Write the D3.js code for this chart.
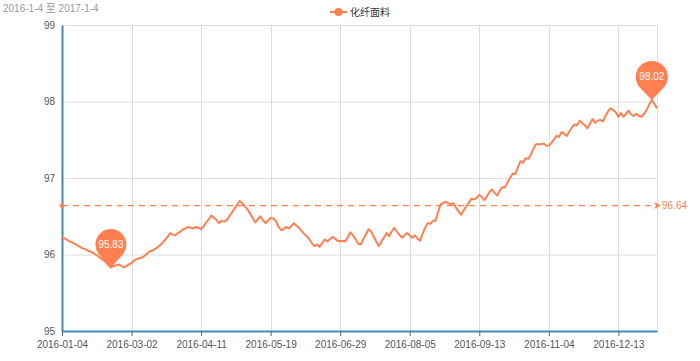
<!DOCTYPE html>
<html><head><meta charset="utf-8">
<script src="https://cdn.jsdelivr.net/npm/d3@7"></script>
<style>
html,body{margin:0;padding:0;background:#fff;}
svg{display:block;font-family:"Liberation Sans","Noto Sans CJK SC",Arial,sans-serif;}
</style></head>
<body><svg id="c" width="700" height="361"></svg>
<script>
const title = "2016-1-4 至 2017-1-4";
const seriesName = "化纤面料";
const tickLabels = ["2016-01-04","2016-03-02","2016-04-11","2016-05-19","2016-06-29","2016-08-05","2016-09-13","2016-11-04","2016-12-13"];
const labelInterval = 27;
const yTicks = [95,96,97,98,99];
const values = [
96.23,96.21,96.19,96.17,96.16,96.14,96.12,96.10,96.08,96.07,
96.05,96.04,96.02,96.00,95.98,95.95,95.93,95.90,95.86,95.83,
95.85,95.86,95.87,95.85,95.83,95.85,95.87,95.89,95.92,95.94,
95.95,95.96,95.98,96.01,96.04,96.05,96.07,96.09,96.12,96.15,
96.19,96.23,96.28,96.26,96.25,96.28,96.30,96.33,96.34,96.36,
96.35,96.34,96.36,96.35,96.33,96.37,96.42,96.46,96.51,96.48,
96.45,96.41,96.44,96.43,96.45,96.50,96.55,96.60,96.65,96.70,
96.67,96.63,96.59,96.54,96.48,96.42,96.46,96.50,96.45,96.41,
96.44,96.48,96.47,96.44,96.37,96.32,96.33,96.36,96.34,96.37,
96.41,96.38,96.35,96.31,96.27,96.24,96.20,96.15,96.11,96.13,
96.10,96.15,96.20,96.17,96.20,96.23,96.21,96.18,96.17,96.18,
96.17,96.23,96.29,96.25,96.20,96.14,96.13,96.20,96.26,96.33,
96.30,96.24,96.17,96.11,96.17,96.22,96.28,96.24,96.30,96.35,
96.30,96.26,96.22,96.25,96.28,96.25,96.22,96.25,96.21,96.18,
96.27,96.35,96.41,96.40,96.44,96.44,96.55,96.66,96.67,96.69,
96.67,96.66,96.67,96.61,96.56,96.52,96.58,96.63,96.68,96.73,
96.72,96.74,96.78,96.75,96.71,96.76,96.82,96.85,96.80,96.77,
96.84,96.88,96.88,96.94,97.00,97.06,97.05,97.14,97.22,97.20,
97.26,97.25,97.30,97.38,97.44,97.44,97.44,97.45,97.42,97.42,
97.46,97.50,97.55,97.54,97.60,97.58,97.55,97.61,97.66,97.70,
97.69,97.75,97.72,97.69,97.65,97.71,97.77,97.72,97.75,97.76,
97.74,97.81,97.87,97.91,97.89,97.86,97.80,97.85,97.80,97.84,
97.88,97.83,97.81,97.84,97.81,97.80,97.84,97.89,97.96,98.02,
97.97,97.91];
const averageValue = 96.64;

const color = "#ff7f50";
const axisColor = "#48b";
const gridColor = "#ddd";
const pLeft = 62, pRight = 657, pTop = 25, pBottom = 331;

const svg = d3.select("#c");
const idx = d3.range(values.length);
const x = d3.scalePoint().domain(idx).range([pLeft, pRight]);
const y = d3.scaleLinear().domain([95, 99]).range([pBottom, pTop]);
const tickIdx = tickLabels.map((_, i) => i * labelInterval);

// grid
const g = svg.append("g");
g.selectAll("line.h").data(yTicks).join("line")
  .attr("x1", pLeft).attr("x2", pRight)
  .attr("y1", d => y(d) + 0.5).attr("y2", d => y(d) + 0.5)
  .attr("stroke", gridColor).attr("stroke-width", 1);
g.selectAll("line.v").data(tickIdx.slice(1).map(i => x(i)).concat([pRight])).join("line")
  .attr("x1", d => Math.round(d) + 0.5).attr("x2", d => Math.round(d) + 0.5)
  .attr("y1", pTop).attr("y2", pBottom)
  .attr("stroke", gridColor).attr("stroke-width", 1);

// x axis
const xAxis = d3.axisBottom(x).tickValues(tickIdx).tickFormat((d, i) => tickLabels[i]).tickSize(5).tickSizeOuter(0);
const xg = svg.append("g").attr("transform", `translate(0,${pBottom})`).call(xAxis);
xg.select(".domain").attr("stroke", axisColor).attr("stroke-width", 2);
xg.selectAll(".tick line").attr("stroke", "#666").attr("stroke-width", 1);
xg.selectAll(".tick text").attr("fill", "#555").attr("font-size", 10).attr("dy", "0.9em")
  .attr("font-family", '"Liberation Sans",Arial,sans-serif');

// y axis
const yAxis = d3.axisLeft(y).tickValues(yTicks).tickFormat(d3.format("d")).tickSize(0).tickPadding(7);
const yg = svg.append("g").attr("transform", `translate(${pLeft},0)`).call(yAxis);
yg.select(".domain").attr("stroke", axisColor).attr("stroke-width", 2);
yg.selectAll(".tick text").attr("fill", "#555").attr("font-size", 10)
  .attr("font-family", '"Liberation Sans",Arial,sans-serif');

// average markLine
const ya = y(averageValue);
svg.append("line").attr("x1", pLeft).attr("x2", pRight).attr("y1", ya).attr("y2", ya)
  .attr("stroke", color).attr("stroke-width", 1.2).attr("stroke-dasharray", "6,5");
svg.append("circle").attr("cx", pLeft).attr("cy", ya).attr("r", 2.2).attr("fill", color);
svg.append("path").attr("d", `M${pRight-3},${ya-3.5} L${pRight+4},${ya} L${pRight-3},${ya+3.5} L${pRight-1},${ya} Z`).attr("fill", color);
svg.append("text").attr("x", pRight + 5).attr("y", ya).attr("dy", "0.35em")
  .attr("fill", color).attr("font-size", 10).text(averageValue.toFixed(2));

// line
const line = d3.line().x((d, i) => x(i)).y(d => y(d));
svg.append("path").datum(values).attr("d", line)
  .attr("fill", "none").attr("stroke", color).attr("stroke-width", 2).attr("stroke-linejoin", "round");

// pins (min / max)
function pin(i, r, d) {
  const tx = x(i), ty = y(values[i]);
  const cy = ty - d;
  const a = Math.acos(r / d);
  const px = r * Math.sin(a), py = r * Math.cos(a);
  svg.append("path")
    .attr("d", `M${tx},${ty} L${tx+px},${cy+py} A${r},${r} 0 1 0 ${tx-px},${cy+py} Z`)
    .attr("fill", color);
  svg.append("text").attr("x", tx).attr("y", cy).attr("dy", "0.35em").attr("text-anchor", "middle")
    .attr("fill", "#fff").attr("font-size", 10).text(values[i].toFixed(2));
}
const minI = d3.minIndex(values), maxI = d3.maxIndex(values);
pin(minI, 15.5, 23);
pin(maxI, 16, 23);

// title
svg.append("text").attr("x", 3).attr("y", 12).attr("fill", "#999").attr("font-size", 10).text(title);

// legend
const lg = svg.append("g").attr("transform", "translate(330,12)");
lg.append("line").attr("x1", 0).attr("x2", 17).attr("y1", 0).attr("y2", 0).attr("stroke", color).attr("stroke-width", 2);
lg.append("circle").attr("cx", 8.5).attr("cy", 0).attr("r", 4).attr("fill", color);
lg.append("text").attr("x", 20).attr("y", 0).attr("dy", "0.35em").attr("fill", "#333").attr("font-size", 10)
  .attr("font-family", '"Noto Sans CJK SC",sans-serif').text(seriesName);
</script></body></html>
